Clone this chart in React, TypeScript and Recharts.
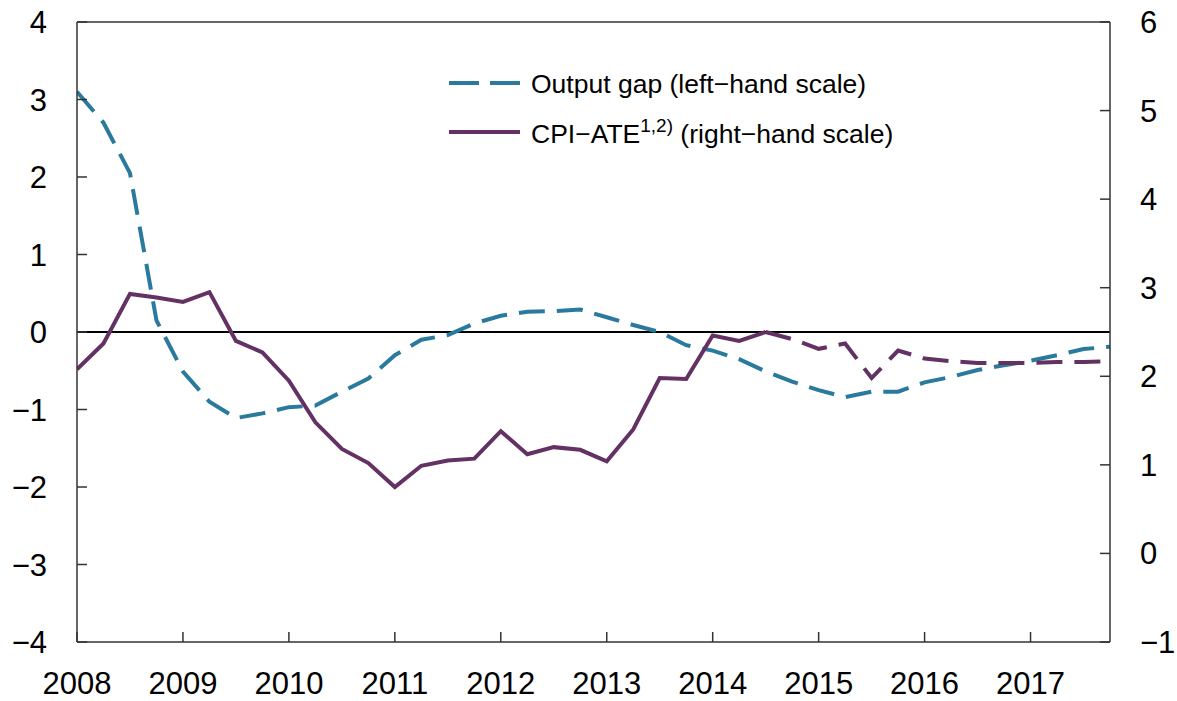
import { LineChart, Line, XAxis, YAxis, ReferenceLine, Legend } from "recharts";

const quarters = [
  "2008Q1", "2008Q2", "2008Q3", "2008Q4", "2009Q1", "2009Q2", "2009Q3", "2009Q4",
  "2010Q1", "2010Q2", "2010Q3", "2010Q4", "2011Q1", "2011Q2", "2011Q3", "2011Q4",
  "2012Q1", "2012Q2", "2012Q3", "2012Q4", "2013Q1", "2013Q2", "2013Q3", "2013Q4",
  "2014Q1", "2014Q2", "2014Q3", "2014Q4", "2015Q1", "2015Q2", "2015Q3", "2015Q4",
  "2016Q1", "2016Q2", "2016Q3", "2016Q4", "2017Q1", "2017Q2", "2017Q3", "2017Q4",
];

// output gap, left-hand scale, all quarters
const outputGap = [
  3.1, 2.7, 2.05, 0.15, -0.51, -0.9, -1.11, -1.05, -0.97, -0.95, -0.77, -0.6,
  -0.3, -0.1, -0.04, 0.11, 0.21, 0.26, 0.27, 0.29, 0.19, 0.09, 0.0, -0.17,
  -0.24, -0.35, -0.51, -0.64, -0.75, -0.84, -0.77, -0.77, -0.65, -0.58, -0.49, -0.43,
  -0.37, -0.3, -0.22, -0.19,
];

// CPI-ATE, right-hand scale: observed 2008Q1-2014Q3
const cpiActual = [
  2.08, 2.37, 2.93, 2.89, 2.84, 2.95, 2.4, 2.27, 1.95, 1.48, 1.18, 1.02,
  0.75, 0.99, 1.05, 1.07, 1.38, 1.12, 1.2, 1.17, 1.04, 1.4, 1.98, 1.97,
  2.46, 2.4, 2.5,
];

// CPI-ATE projection 2014Q3-2017Q4
const cpiProjection = [2.5, 2.42, 2.31, 2.37, 1.98, 2.29, 2.2, 2.17, 2.15, 2.15, 2.15, 2.16, 2.16, 2.17];
const projectionStart = "2014Q3";

const years = [2008, 2009, 2010, 2011, 2012, 2013, 2014, 2015, 2016, 2017];
const leftTicks = [-4, -3, -2, -1, 0, 1, 2, 3, 4];
const rightTicks = [-1, 0, 1, 2, 3, 4, 5, 6];

const BLUE = "#2a7a9e";
const PURPLE = "#633163";
const FONT = "'Liberation Sans', Arial, Helvetica, sans-serif";

const toT = (q: string) => Number(q.slice(0, 4)) + (Number(q.slice(5)) - 1) / 4;
const projIdx = quarters.indexOf(projectionStart);

const data = quarters.map((q, i) => ({
  t: toT(q),
  gap: outputGap[i],
  cpi: i < cpiActual.length ? cpiActual[i] : null,
  cpiProj: i >= projIdx ? cpiProjection[i - projIdx] : null,
}));

const minus = (v: number) => String(v).replace("-", "\u2212");

const tickStyle = { fill: "#000", fontSize: 31, fontFamily: FONT };

function LegendBox() {
  return (
    <svg width={1177} height={170} style={{ fontFamily: FONT }}>
      <line x1={449} x2={520} y1={83} y2={83} stroke={BLUE} strokeWidth={4} strokeDasharray="30 11" />
      <text x={531} y={93} fontSize={26.5} fill="#000">
        Output gap (left{"\u2212"}hand scale)
      </text>
      <line x1={449} x2={520} y1={132} y2={132} stroke={PURPLE} strokeWidth={4} />
      <text x={531} y={143} fontSize={26.5} fill="#000">
        CPI{"\u2212"}ATE
        <tspan dy={-11} fontSize={19}>1,2)</tspan>
        <tspan dy={11}> (right{"\u2212"}hand scale)</tspan>
      </text>
    </svg>
  );
}

export default function App() {
  return (
    <div style={{ position: "absolute", left: 0, top: 0, background: "#fff" }}>
      <LineChart width={1177} height={701} data={data} margin={{ top: 22, right: 0, bottom: 0, left: 0 }}>
        <XAxis
          dataKey="t"
          type="number"
          domain={[2008, 2017.75]}
          ticks={years}
          allowDataOverflow
          height={59}
          tickSize={-10}
          tickMargin={40}
          tick={tickStyle}
          stroke="#333"
          strokeWidth={1.5}
          tickFormatter={(v) => String(v)}
        />
        <YAxis
          yAxisId="left"
          orientation="left"
          domain={[-4, 4]}
          ticks={leftTicks}
          width={77}
          tickSize={-10}
          tickMargin={40}
          tick={tickStyle}
          stroke="#333"
          strokeWidth={1.5}
          tickFormatter={minus}
        />
        <YAxis
          yAxisId="right"
          orientation="right"
          domain={[-1, 6]}
          ticks={rightTicks}
          width={67}
          tickSize={-10}
          tickMargin={40}
          tick={tickStyle}
          stroke="#333"
          strokeWidth={1.5}
          tickFormatter={minus}
        />
        <ReferenceLine yAxisId="left" y={0} stroke="#000" strokeWidth={2} />
        <ReferenceLine yAxisId="left" y={4} stroke="#333" strokeWidth={1.5} />
        <Legend
          layout="vertical"
          align="center"
          verticalAlign="middle"
          content={() => <LegendBox />}
          wrapperStyle={{ left: 0, top: 0, width: 1177, height: 170, pointerEvents: "none" }}
        />
        <Line
          yAxisId="left"
          dataKey="gap"
          stroke={BLUE}
          strokeWidth={4}
          strokeDasharray="26 12"
          dot={false}
          isAnimationActive={false}
        />
        <Line
          yAxisId="right"
          dataKey="cpi"
          stroke={PURPLE}
          strokeWidth={4}
          dot={false}
          connectNulls={false}
          isAnimationActive={false}
        />
        <Line
          yAxisId="right"
          dataKey="cpiProj"
          stroke={PURPLE}
          strokeWidth={4}
          strokeDasharray="26 12"
          dot={false}
          connectNulls={false}
          legendType="none"
          isAnimationActive={false}
        />
      </LineChart>
    </div>
  );
}
